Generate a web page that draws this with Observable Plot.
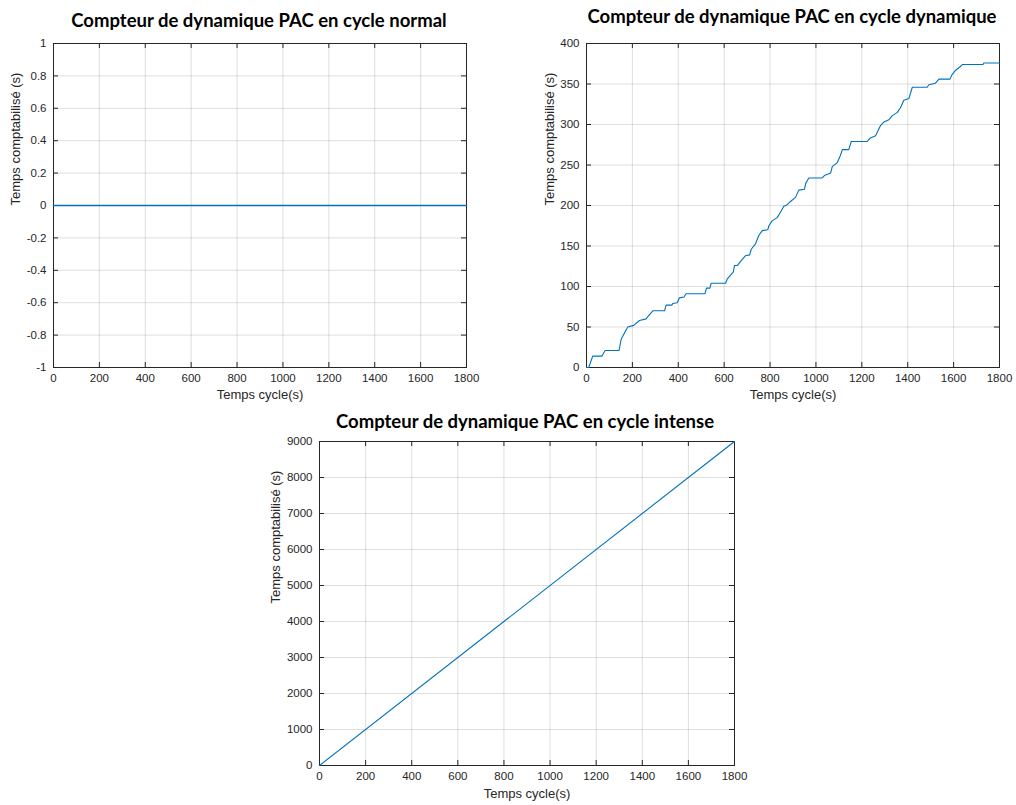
<!DOCTYPE html>
<html>
<head>
<meta charset="utf-8">
<script src="https://cdn.jsdelivr.net/npm/d3@7"></script>
<script src="https://cdn.jsdelivr.net/npm/@observablehq/plot@0.6"></script>
<style>
  html, body { margin: 0; padding: 0; background: #fff; }
  #page { position: relative; width: 1016px; height: 805px; overflow: hidden; background: #fff; }
  .chart { position: absolute; }
  .title { position: absolute; font-family: Lato, "Open Sans", sans-serif; font-weight: bold; font-size: 18.5px; color: #000; white-space: nowrap; transform: translateX(-50%); }
</style>
</head>
<body>
<div id="page"></div>
<script>
// ---------- data ----------
const titles = [
  "Compteur de dynamique PAC en cycle normal",
  "Compteur de dynamique PAC en cycle dynamique",
  "Compteur de dynamique PAC en cycle intense"
];
const xLabel = "Temps cycle(s)";
const yLabel = "Temps comptabilisé (s)";
const xTicks = [0, 200, 400, 600, 800, 1000, 1200, 1400, 1600, 1800];
const yTicksNormal = [-1, -0.8, -0.6, -0.4, -0.2, 0, 0.2, 0.4, 0.6, 0.8, 1];
const yTicksDynamic = [0, 50, 100, 150, 200, 250, 300, 350, 400];
const yTicksIntense = [0, 1000, 2000, 3000, 4000, 5000, 6000, 7000, 8000, 9000];

// cycle normal: counter stays at 0
const normalT = [0, 1800];
const normalV = [0, 0];

// cycle dynamique: step-like counter
const dynT = [0,10,27,67,81,142,151,170,180,206,231,260,268,289,340,347,372,376,395,405,425,434,516,523,538,543,606,613,628,640,645,658,674,693,711,718,737,751,766,790,795,809,831,846,860,875,889,911,925,950,955,969,1027,1037,1064,1071,1093,1107,1115,1143,1154,1223,1235,1260,1282,1296,1318,1333,1355,1369,1383,1405,1420,1485,1492,1521,1536,1584,1594,1609,1627,1638,1728,1732,1800];
const dynV = [0,0,14,14,21,21,35,45,50,52,58,60,63,70,70,77,77,79,80,86,87,91,91,98,98,104,104,109,114,118,126,126,132,138,139,146,153,163,169,170,175,181,185,192,199,201,205,210,219,220,227,234,234,237,240,248,253,262,269,269,279,279,283,286,299,303,306,311,315,321,330,332,346,346,349,351,356,356,362,367,371,374,374,376,376];

// cycle intense: linear counter
const intenseT = [0, 1800];
const intenseV = [0, 9000];

// ---------- drawing ----------
const axisColor = "#262626";
const lineColor = "#0072BD";

function makeChart(cfg) {
  const innerW = cfg.width - cfg.ml - cfg.mr;
  const innerH = cfg.height - cfg.mt - cfg.mb;
  const data = cfg.t.map((t, i) => ({t, v: cfg.v[i]}));
  const fmt = d => String(d);
  const tick = 5;
  return Plot.plot({
    width: cfg.width,
    height: cfg.height,
    marginLeft: cfg.ml, marginRight: cfg.mr, marginTop: cfg.mt, marginBottom: cfg.mb,
    style: {fontFamily: "'Liberation Sans', Arial, sans-serif", fontSize: "11.5px", color: axisColor, background: "transparent", overflow: "visible"},
    x: {domain: [0, 1800]},
    y: {domain: cfg.yDomain},
    marks: [
      Plot.gridX(xTicks, {stroke: axisColor, strokeOpacity: 0.15}),
      Plot.gridY(cfg.yTicks, {stroke: axisColor, strokeOpacity: 0.15}),
      Plot.tickX(xTicks, {x: d => d, insetTop: innerH - tick, stroke: axisColor}),
      Plot.tickX(xTicks, {x: d => d, insetBottom: innerH - tick, stroke: axisColor}),
      Plot.tickY(cfg.yTicks, {y: d => d, insetRight: innerW - tick, stroke: axisColor}),
      Plot.tickY(cfg.yTicks, {y: d => d, insetLeft: innerW - tick, stroke: axisColor}),
      Plot.frame({stroke: axisColor}),
      Plot.axisX(xTicks, {tickSize: 0, tickPadding: 6, tickFormat: fmt, label: null, fill: axisColor}),
      Plot.axisY(cfg.yTicks, {tickSize: 0, tickPadding: 7, tickFormat: fmt, label: null, fill: axisColor}),
      Plot.text([xLabel], {text: d => d, frameAnchor: "bottom", dy: cfg.xLabelDy, fontSize: 13, fill: axisColor}),
      Plot.text([yLabel], {text: d => d, frameAnchor: "left", rotate: -90, dx: cfg.yLabelDx, fontSize: 13, fill: axisColor}),
      Plot.line(data, {x: "t", y: "v", stroke: lineColor, strokeWidth: cfg.sw})
    ]
  });
}

const page = document.getElementById("page");
const charts = [
  {left: 0, top: 30, width: 490, height: 390, ml: 53, mr: 24, mt: 13, mb: 53, t: normalT, v: normalV, yDomain: [-1, 1], yTicks: yTicksNormal, xLabelDy: 31, yLabelDx: -38, title: titles[0], tx: 259, ty: 9, sw: 1.5},
  {left: 530, top: 30, width: 486, height: 390, ml: 56, mr: 17, mt: 13, mb: 53, t: dynT, v: dynV, yDomain: [0, 400], yTicks: yTicksDynamic, xLabelDy: 31, yLabelDx: -37, title: titles[1], tx: 792, ty: 5, sw: 1.1},
  {left: 260, top: 430, width: 490, height: 375, ml: 59, mr: 16, mt: 11, mb: 40, t: intenseT, v: intenseV, yDomain: [0, 9000], yTicks: yTicksIntense, xLabelDy: 32, yLabelDx: -44, title: titles[2], tx: 525, ty: 410, sw: 1.1}
];
for (const c of charts) {
  const svg = makeChart(c);
  const wrap = document.createElement("div");
  wrap.className = "chart";
  wrap.style.left = c.left + "px";
  wrap.style.top = c.top + "px";
  wrap.appendChild(svg);
  page.appendChild(wrap);
  const t = document.createElement("div");
  t.className = "title";
  t.textContent = c.title;
  t.style.left = c.tx + "px";
  t.style.top = c.ty + "px";
  page.appendChild(t);
}
</script>
</body>
</html>
